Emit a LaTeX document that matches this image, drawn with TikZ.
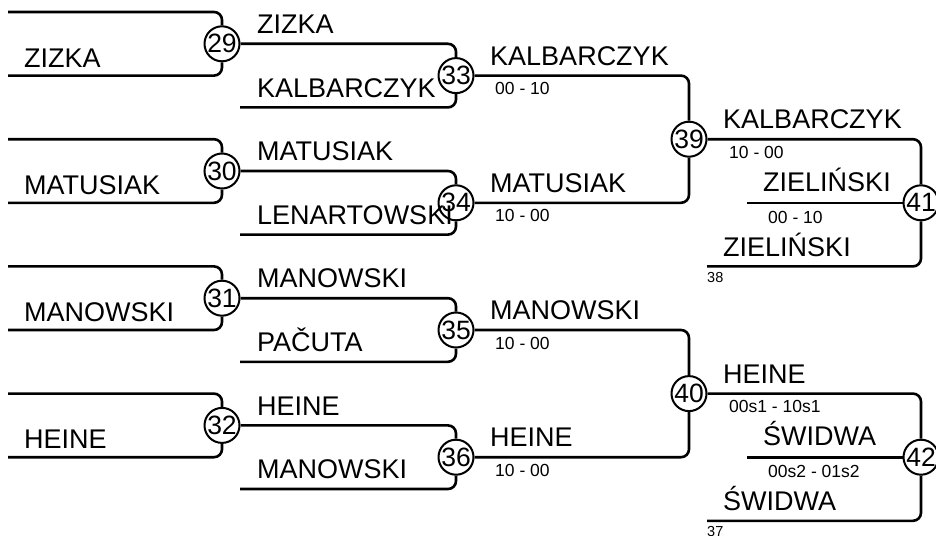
\documentclass[tikz,border=0pt]{standalone}
\usepackage{fontspec}
\setmainfont{Liberation Sans}
\begin{document}
\begin{tikzpicture}[x=1pt,y=-1pt,
 line/.style={line width=2.6pt, rounded corners=8pt},
 num/.style={circle, draw, line width=2pt, minimum size=35pt, inner sep=0pt, font=\fontsize{26.5}{26.5}\selectfont},
 pname/.style={anchor=base west, inner sep=0pt, font=\fontsize{27}{30}\selectfont},
 score/.style={anchor=base west, inner sep=0pt, font=\fontsize{17.5}{20}\selectfont},
 seed/.style={anchor=base west, inner sep=0pt, font=\fontsize{14.5}{16}\selectfont}]
\useasboundingbox (0,0) rectangle (936,535);

% match circles
\node[num] (c29) at (222,43.8) {29};
\node[num] (c30) at (222,171) {30};
\node[num] (c31) at (222,298.2) {31};
\node[num] (c32) at (222,425.4) {32};
\node[num] (c33) at (456,75.6) {33};
\node[num] (c34) at (456,202.8) {34};
\node[num] (c35) at (456,330) {35};
\node[num] (c36) at (456,457.2) {36};
\node[num] (c39) at (689,139.2) {39};
\node[num] (c40) at (689,393.6) {40};
\node[num] (c41) at (921,202.8) {41};
\node[num] (c42) at (921,457.2) {42};

% free line ends
\coordinate (a1) at (8,12);     \coordinate (b1) at (8,75.6);
\coordinate (a2) at (8,139.2);  \coordinate (b2) at (8,202.8);
\coordinate (a3) at (8,266.4);  \coordinate (b3) at (8,330);
\coordinate (a4) at (8,393.6);  \coordinate (b4) at (8,457.2);
\coordinate (e33) at (240,107.4);
\coordinate (e34) at (240,234.6);
\coordinate (e35) at (240,361.8);
\coordinate (e36) at (240,489);
\coordinate (m41) at (747,202.8);
\coordinate (l41) at (707,266.4);
\coordinate (m42) at (747,457.2);
\coordinate (l42) at (707,520.8);

% round 1
\foreach \a/\b/\c in {a1/b1/c29, a2/b2/c30, a3/b3/c31, a4/b4/c32}{
  \draw[line] (\a) -- (\a -| \c) -- (\c);
  \draw[line] (\b) -- (\b -| \c) -- (\c);
}
% round 2
\foreach \p/\e/\c in {c29/e33/c33, c30/e34/c34, c31/e35/c35, c32/e36/c36}{
  \draw[line] (\p) -- (\p -| \c) -- (\c);
  \draw[line] (\e) -- (\e -| \c) -- (\c);
}
% round 3
\draw[line] (c33) -- (c33 -| c39) -- (c39);
\draw[line] (c34) -- (c34 -| c39) -- (c39);
\draw[line] (c35) -- (c35 -| c40) -- (c40);
\draw[line] (c36) -- (c36 -| c40) -- (c40);
% round 4
\draw[line] (c39) -- (c39 -| c41) -- (c41);
\draw[line] (m41) -- (c41);
\draw[line] (l41) -- (l41 -| c41) -- (c41);
\draw[line] (c40) -- (c40 -| c42) -- (c42);
\draw[line] (m42) -- (c42);
\draw[line] (l42) -- (l42 -| c42) -- (c42);

% names round 1
\node[pname] (n1) at (24,67) {ZIZKA};
\node[pname] (n2) at (24,194) {MATUSIAK};
\node[pname] (n3) at (24,321) {MANOWSKI};
\node[pname] (n4) at (24,448.5) {HEINE};
% names round 2
\node[pname] (n5)  at (257,33.3) {ZIZKA};
\node[pname] (n6)  at (257,97) {KALBARCZYK};
\node[pname] (n7)  at (257,160.5) {MATUSIAK};
\node[pname] (n8)  at (257,224) {LENARTOWSKI};
\node[pname] (n9)  at (257,287.7) {MANOWSKI};
\node[pname] (n10) at (257,351.3) {PAČUTA};
\node[pname] (n11) at (257,415) {HEINE};
\node[pname] (n12) at (257,478.5) {MANOWSKI};
% round 3
\node[pname] (n13) at (490,65.1) {KALBARCZYK};
\node[score] (s13) at (495,94.6) {00 - 10};
\node[pname] (n14) at (490,192.3) {MATUSIAK};
\node[score] (s14) at (495,221.8) {10 - 00};
\node[pname] (n15) at (490,319.5) {MANOWSKI};
\node[score] (s15) at (495,349) {10 - 00};
\node[pname] (n16) at (490,446.7) {HEINE};
\node[score] (s16) at (495,476.2) {10 - 00};
% round 4 top
\node[pname] (n17) at (723,128.7) {KALBARCZYK};
\node[score] (s17) at (729,158.2) {10 - 00};
\node[pname] (n18) at (763,191) {ZIELIŃSKI};
\node[score] (s18) at (768,223.8) {00 - 10};
\node[pname] (n19) at (723,256.4) {ZIELIŃSKI};
\node[seed]  (d19) at (707,282.4) {38};
% round 4 bottom
\node[pname] (n20) at (723,383.1) {HEINE};
\node[score] (s20) at (729,412.6) {00s1 - 10s1};
\node[pname] (n21) at (763,445.4) {ŚWIDWA};
\node[score] (s21) at (768,477.2) {00s2 - 01s2};
\node[pname] (n22) at (723,510.8) {ŚWIDWA};
\node[seed]  (d22) at (707,536.8) {37};
\end{tikzpicture}
\end{document}
